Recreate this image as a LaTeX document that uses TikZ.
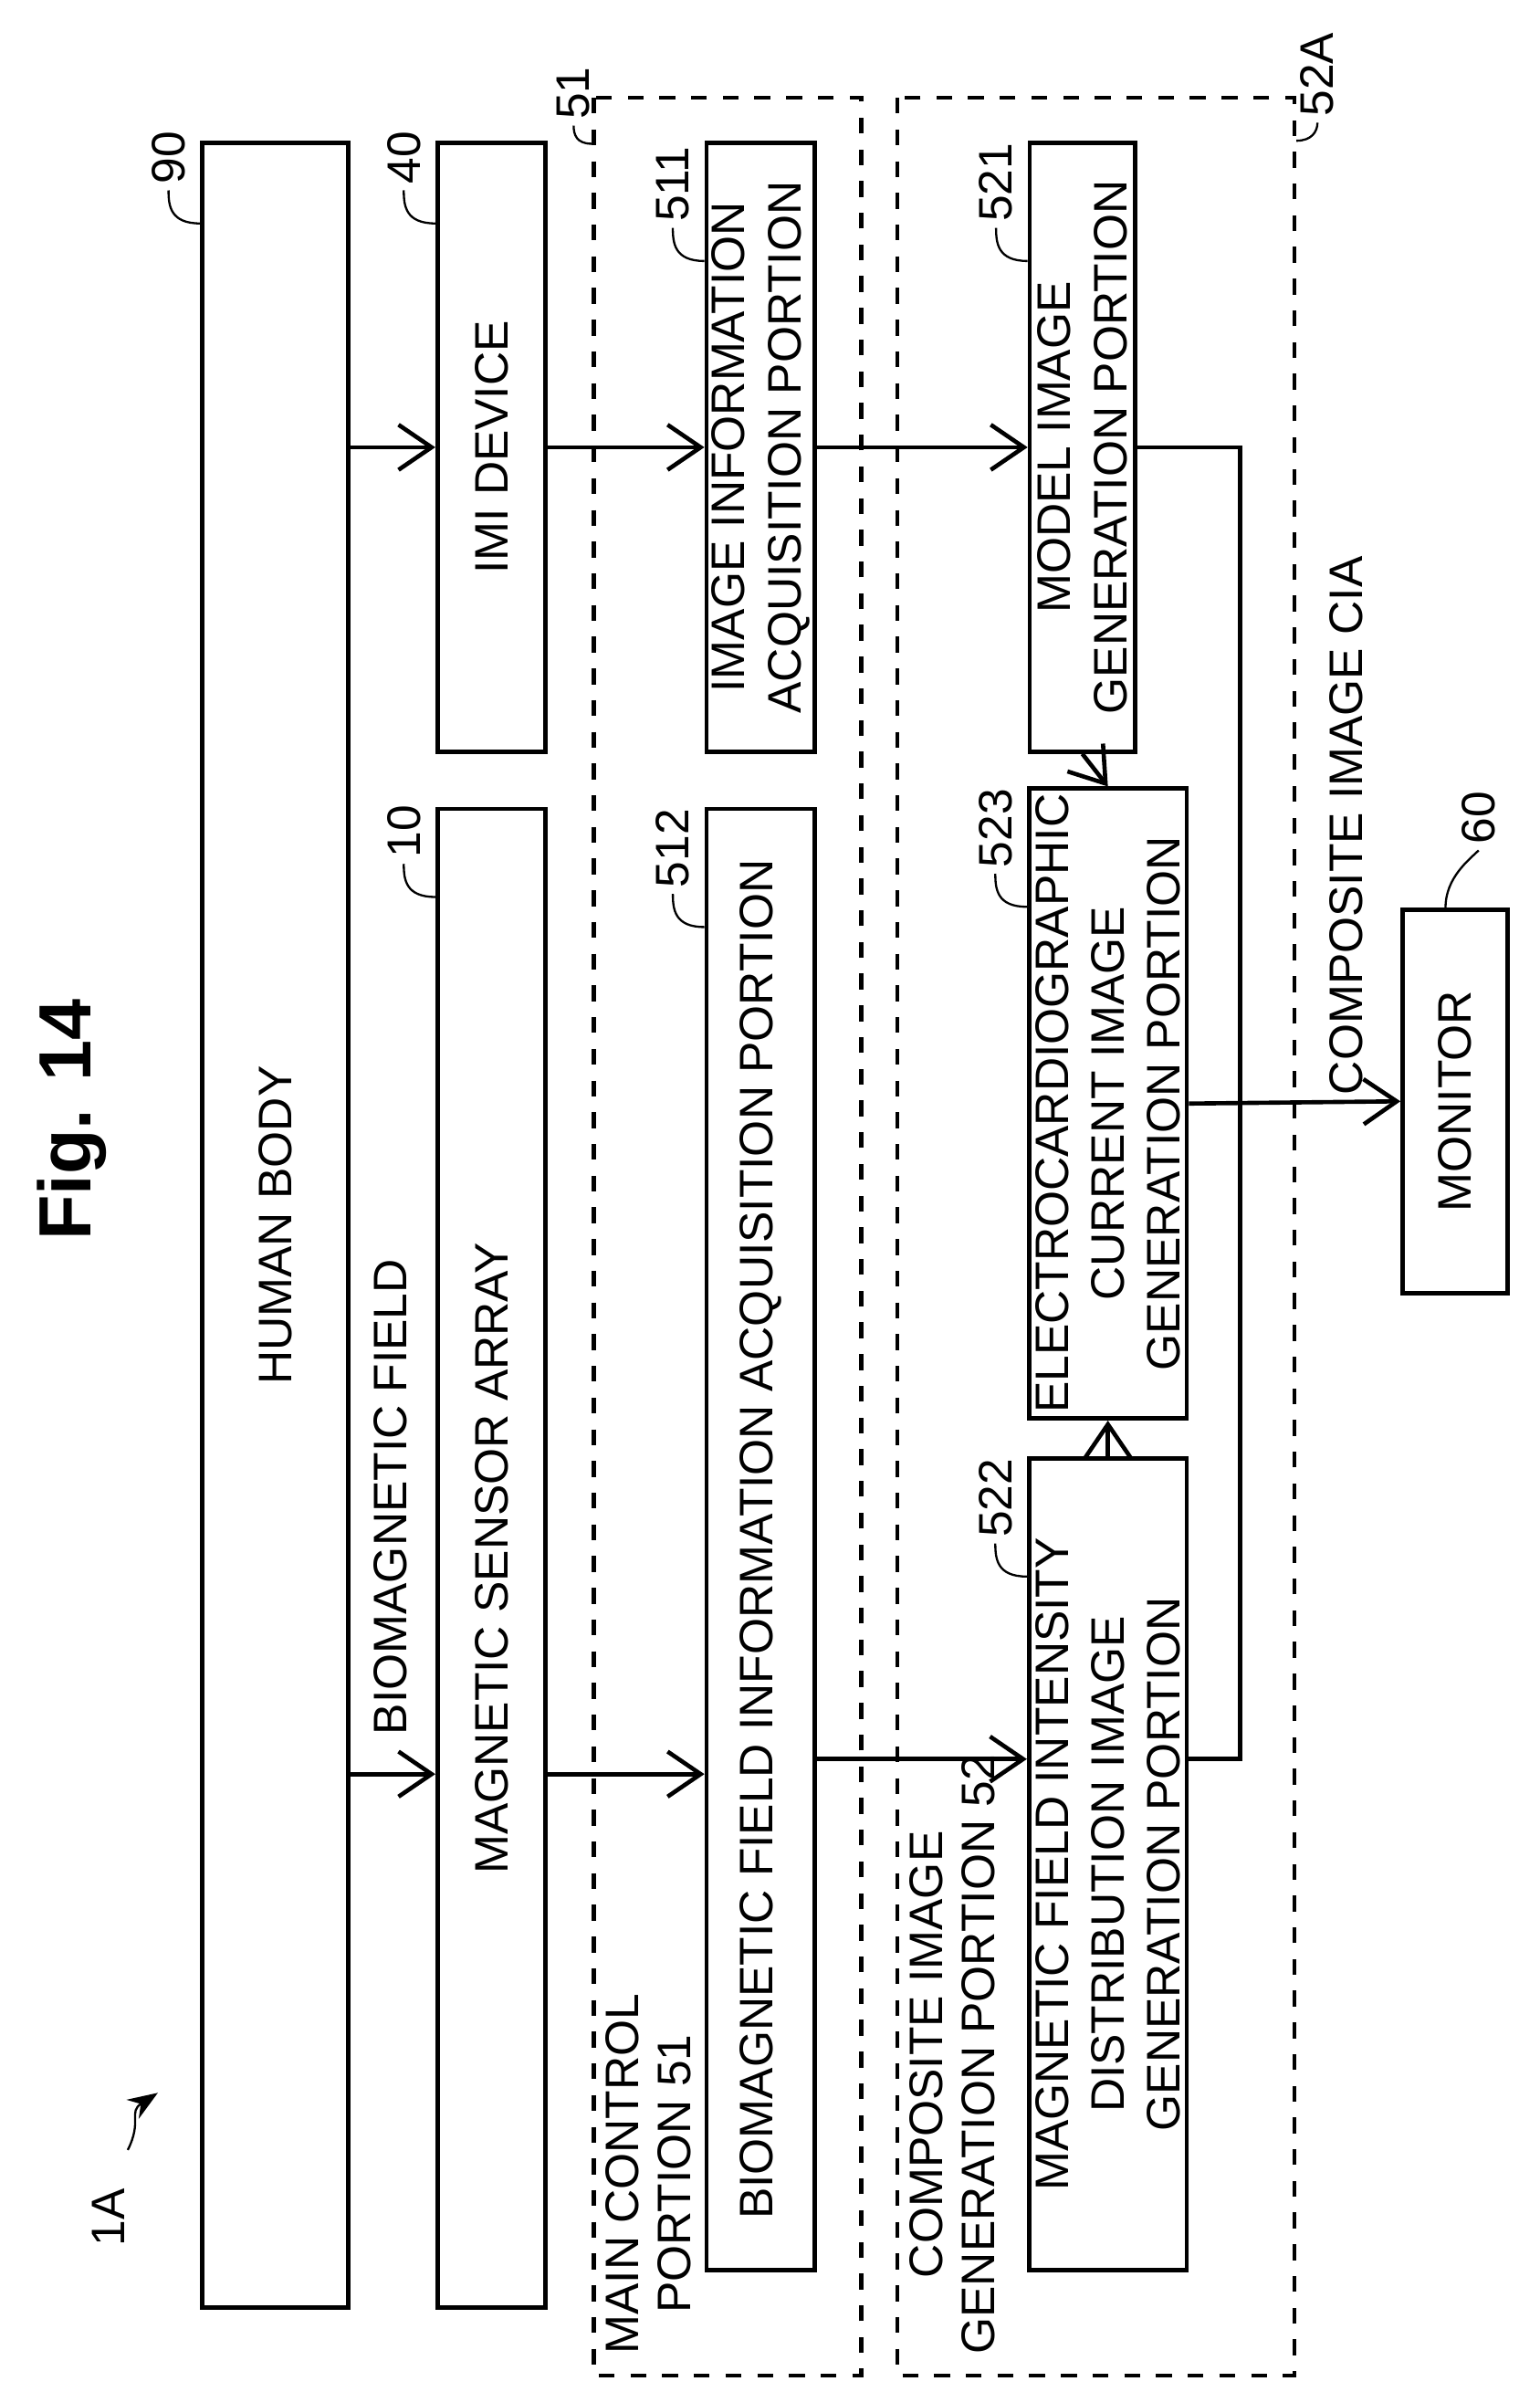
\documentclass[tikz,border=0pt]{standalone}
\usepackage{fontspec}
\setmainfont{Liberation Sans}
\usetikzlibrary{positioning,arrows.meta,calc}
\tikzset{
  box/.style={draw, thick, rotate=90, align=center, inner sep=1pt},
  frame/.style={draw, thick, dashed, rotate=90},
  lbl/.style={rotate=90, align=left, inner sep=1pt},
  flow/.style={thick, -{Straight Barb[length=2.2mm,width=3mm]}},
  lead/.style={thin}
}
% reference numeral with its leader, hooked to the top left corner of a block
\newcommand{\refnum}[3]{%
  \draw[lead] ($(#1.north east)+(0,#3)$) .. controls +(-20,0) and +(0,10) .. ++(-21,-22)
    node[lbl, anchor=west] (n#2) {#2};}
\begin{document}
\begin{tikzpicture}[x=0.1mm, y=-0.1mm, font=\fontsize{8.9}{10.6}\selectfont]
  \useasboundingbox (0,0) rectangle (1024,1591);

  % title and figure tag
  \node[rotate=90, font=\fontsize{14}{16}\bfseries] (title) at (48,745) {Fig. 14};
  \node[lbl] (tag) at (72,1475) {1A};
  \draw[lead, -{Stealth[length=2mm]}] (85,1430) .. controls (95,1410) and (85,1405) .. (105,1392);

  % frames
  \node[frame, minimum width=151.5mm, minimum height=17.8mm] (f51) at (484,822.5) {};
  \node[frame, minimum width=151.5mm, minimum height=26.4mm] (f52) at (729,822.5) {};

  % blocks
  \node[box, minimum width=144mm, minimum height=9.7mm] (body) at (183,815) {HUMAN BODY};
  \node[box, minimum width=40.5mm, minimum height=7.2mm] (imi) at (327,297.5) {IMI DEVICE};
  \node[box, minimum width=99.7mm, minimum height=7.2mm] (sensor) at (327,1036.5) {MAGNETIC SENSOR ARRAY};
  \node[box, minimum width=40.5mm, minimum height=7.2mm] (b511) at (506,297.5) {IMAGE INFORMATION\\ACQUISITION PORTION};
  \node[box, minimum width=97.2mm, minimum height=7.2mm] (b512) at (506,1024) {BIOMAGNETIC FIELD INFORMATION ACQUISITION PORTION};
  \node[box, minimum width=40.5mm, minimum height=7mm] (b521) at (720,297.5) {MODEL IMAGE\\GENERATION PORTION};
  \node[box, minimum width=38.2mm, minimum height=10.5mm] (b523) at (737,734) {ELECTROCARDIOGRAPHIC\\CURRENT IMAGE\\GENERATION PORTION};
  \node[box, minimum width=54mm, minimum height=10.5mm] (b522) at (737,1240) {MAGNETIC FIELD INTENSITY\\DISTRIBUTION IMAGE\\GENERATION PORTION};
  \node[box, minimum width=25.5mm, minimum height=7mm] (monitor) at (968,732.5) {MONITOR};

  % frame labels
  \node[lbl, align=center, anchor=north west, font=\fontsize{8.9}{9.8}\selectfont] (t51) at (399,1570) {MAIN CONTROL\\PORTION 51};
  \node[lbl, align=center, anchor=north west, font=\fontsize{8.9}{9.8}\selectfont] (t52) at (601,1570) {COMPOSITE IMAGE\\GENERATION PORTION 52};

  % reference numerals
  \refnum{body}{90}{55}
  \refnum{imi}{40}{55}
  \refnum{sensor}{10}{60}
  \refnum{b511}{511}{80}
  \refnum{b512}{512}{80}
  \refnum{b521}{521}{80}
  \refnum{b523}{523}{80}
  \refnum{b522}{522}{80}
  \draw[lead] ($(monitor.north east)+(30,0)$) .. controls +(0,-20) and +(-6,6) .. ++(22,-38)
    node[lbl, anchor=west] (n60) {60};
  \draw[lead] ($(f51.north east)+(0,32)$) .. controls +(-10,0) and +(0,6) .. ++(-12,-12)
    node[lbl, anchor=west] (n51) {51};
  \draw[lead] ($(f52.south east)+(0,30)$) .. controls +(10,0) and +(0,6) .. ++(14,-12)
    node[lbl, anchor=west] (n52A) {52A};

  % signal flow
  \draw[flow] (body.south |- imi) -- (imi.north);
  \draw[flow] (body.south |- 0,1180) -- (sensor.north |- 0,1180);
  \node[lbl, anchor=west] (biolbl) at (260,1158) {BIOMAGNETIC FIELD};
  \draw[flow] (imi.south) -- (b511.north);
  \draw[flow] (sensor.south |- 0,1180) -- (b512.north |- 0,1180);
  \draw[flow] (b511.south) -- (b521.north);
  \draw[flow] (b512.south |- 0,1170) -- (b522.north |- 0,1170);
  \draw[flow] (b521.west) -- (b523.east);
  \draw[flow] (b522.east) -- (b523.west);
  \draw[thick] (b521.south) -- (825,297.5) -- (825,1170) -- (b522.south |- 0,1170);
  \draw[flow] (b523.south) -- (monitor.north)
    node[lbl, pos=0.6, anchor=west, yshift=-2mm] (cia) {COMPOSITE IMAGE CIA};
\end{tikzpicture}
\end{document}
